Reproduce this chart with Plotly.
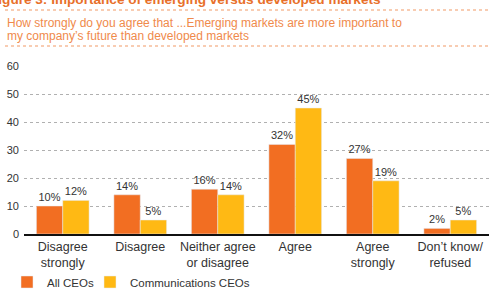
import plotly.graph_objects as go

categories = ["Disagree<br>strongly", "Disagree", "Neither agree<br>or disagree", "Agree", "Agree<br>strongly", "Don’t know/<br>refused"]
all_ceos = [10, 14, 16, 32, 27, 2]
comm_ceos = [12, 5, 14, 45, 19, 5]
series_names = ["All CEOs", "Communications CEOs"]
y_ticks = [0, 10, 20, 30, 40, 50, 60]

W, H = 495, 292
L, R, T, B = 24, 6, 66, 58
PW, PH = W - L - R, H - T - B

def px(x):
    return (x - L) / PW

def py(y):
    return (H - B - y) / PH

ORANGE = "#F26E22"
YELLOW = "#FFB914"
FONT = "Liberation Sans, Arial, sans-serif"

fig = go.Figure()
fig.add_trace(go.Bar(x=categories, y=all_ceos, name=series_names[0], marker_color=ORANGE,
                     text=[f"{v}%" for v in all_ceos], textposition="outside",
                     textfont=dict(size=11, color="#333"), cliponaxis=False, legend="legend"))
fig.add_trace(go.Bar(x=categories, y=comm_ceos, name=series_names[1], marker_color=YELLOW,
                     text=[f"{v}%" for v in comm_ceos], textposition="outside",
                     textfont=dict(size=11, color="#333"), cliponaxis=False, legend="legend2"))

legend_style = dict(orientation="h", yanchor="middle", xanchor="left",
                    font=dict(size=11.5, color="#333"), bgcolor="rgba(0,0,0,0)", itemwidth=30)

fig.update_layout(
    width=W, height=H, margin=dict(l=L, r=R, t=T, b=B, pad=0, autoexpand=False),
    paper_bgcolor="white", plot_bgcolor="white",
    font=dict(family=FONT, color="#333", size=12),
    barmode="group", bargap=0.32, bargroupgap=0,
    showlegend=True,
    legend=dict(x=px(7), y=py(282), **legend_style),
    legend2=dict(x=px(90), y=py(282), **legend_style),
    xaxis=dict(showline=True, linecolor="#111", linewidth=1.5, ticks="",
               tickfont=dict(size=12.5, color="#333"), showgrid=False, automargin=False),
    yaxis=dict(range=[0, 60], tickvals=y_ticks, showgrid=True, gridcolor="#b0b0b0",
               griddash="dot", gridwidth=1, zeroline=False, ticks="",
               tickfont=dict(size=11, color="#333"), ticklabelstandoff=4, automargin=False),
)

for yy in [10, 46]:
    fig.add_shape(type="line", xref="paper", yref="paper", x0=px(5), x1=px(490),
                  y0=py(yy), y1=py(yy), line=dict(color="#F29A66", width=1.2, dash="dot"))

fig.add_annotation(xref="paper", yref="paper", x=px(-12.5), y=py(-1), xanchor="left", yanchor="middle",
                   text="<b>Figure 3: Importance of emerging versus developed markets</b>",
                   showarrow=False, font=dict(size=13.6, color="#E8702A", family=FONT))
subtitle_lines = ["How strongly do you agree that ...Emerging markets are more important to",
                  "my company’s future than developed markets"]
for line, yy in zip(subtitle_lines, [22.5, 35.5]):
    fig.add_annotation(xref="paper", yref="paper", x=px(5), y=py(yy), xanchor="left", yanchor="middle",
                       text=line, align="left", showarrow=False,
                       font=dict(size=12, color="#F08A4B", family=FONT))

fig.write_html("out.html")
